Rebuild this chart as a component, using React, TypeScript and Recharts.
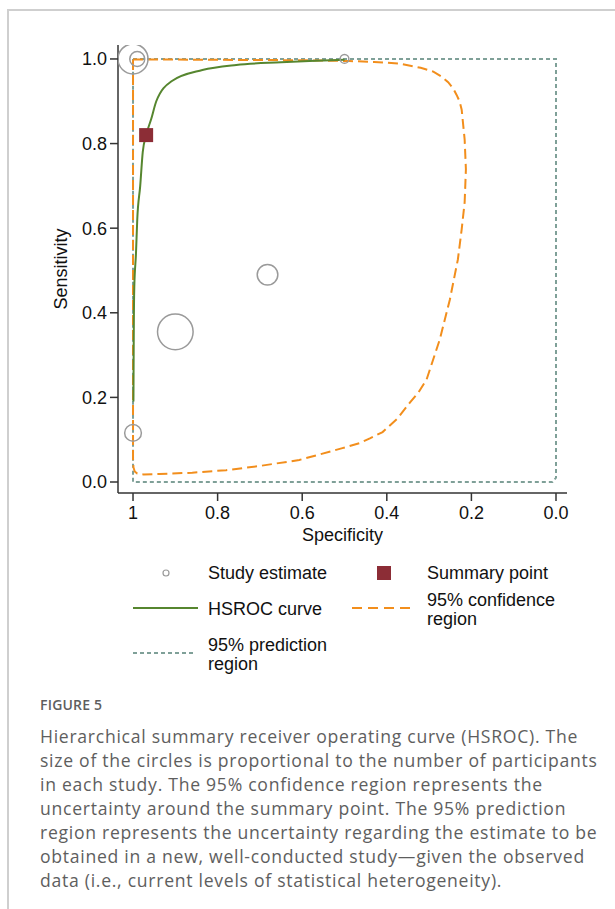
import React from 'react';
import { ScatterChart, Scatter, XAxis, YAxis, ZAxis } from 'recharts';

const specTicks = [1, 0.8, 0.6, 0.4, 0.2, 0];
const sensTicks = [0, 0.2, 0.4, 0.6, 0.8, 1];

// study estimates (circle area ~ participants)
const studySpec = [1.0, 0.99, 0.5, 0.682, 0.9, 1.0];
const studySens = [1.0, 1.0, 1.0, 0.49, 0.355, 0.116];
const studyN = [225, 56, 19, 106, 317, 70];

const summarySpec = [0.969];
const summarySens = [0.82];

// HSROC curve
const hsrocSpec = [0.999, 0.9985, 0.998, 0.997, 0.993, 0.99, 0.983, 0.977, 0.969, 0.957, 0.945, 0.908, 0.836, 0.756, 0.65, 0.583, 0.5];
const hsrocSens = [0.19, 0.3, 0.384, 0.46, 0.54, 0.62, 0.7, 0.78, 0.82, 0.858, 0.9, 0.948, 0.974, 0.986, 0.992, 0.995, 0.998];

// 95% confidence region (closed)
const confSpec = [1.0, 0.8, 0.6, 0.488, 0.43, 0.37, 0.32, 0.29, 0.27, 0.255, 0.243, 0.235, 0.228, 0.223, 0.216, 0.213, 0.216, 0.223, 0.232, 0.251, 0.275, 0.306, 0.325, 0.346, 0.375, 0.41, 0.44, 0.464, 0.505, 0.607, 0.7, 0.78, 0.86, 0.938, 0.975, 0.99, 0.996, 0.999, 1.0, 1.0];
const confSens = [0.999, 0.998, 0.997, 0.995, 0.993, 0.989, 0.979, 0.97, 0.958, 0.945, 0.93, 0.915, 0.9, 0.88, 0.81, 0.739, 0.661, 0.597, 0.526, 0.431, 0.336, 0.242, 0.212, 0.187, 0.15, 0.118, 0.103, 0.092, 0.08, 0.052, 0.038, 0.028, 0.022, 0.019, 0.018, 0.02, 0.025, 0.035, 0.055, 0.999];

// 95% prediction region (closed)
const predSpec = [1.0, 0.0, 0.0, 0.008, 1.0, 1.0];
const predSens = [1.0, 1.0, 0.01, 0.0, 0.0, 1.0];

const zip = (xs: number[], ys: number[]) => xs.map((x, i) => ({ x, y: ys[i] }));

const studies = studySpec.map((x, i) => ({ x, y: studySens[i], n: studyN[i] }));
const summary = zip(summarySpec, summarySens);
const hsroc = zip(hsrocSpec, hsrocSens);
const conf = zip(confSpec, confSens);
const pred = zip(predSpec, predSens);

const GREEN = '#56862f';
const ORANGE = '#f28e1c';
const TEAL = '#7fa098';
const CIRCLE = '#9a9a9a';
const RED = '#8c2d36';
const FONT = '"Liberation Sans", Arial, Helvetica, sans-serif';

const noDot = () => <g />;
const square = (p: any) => <rect x={p.cx - 7} y={p.cy - 7} width={14} height={14} fill={RED} />;

const tickStyle = { fontSize: 18, fill: '#111', fontFamily: FONT };
const axisStroke = { stroke: '#333', strokeWidth: 1.5 };

const captionLines = [
  'Hierarchical summary receiver operating curve (HSROC). The',
  'size of the circles is proportional to the number of participants',
  'in each study. The 95% confidence region represents the',
  'uncertainty around the summary point. The 95% prediction',
  'region represents the uncertainty regarding the estimate to be',
  'obtained in a new, well-conducted study\u2014given the observed',
  'data (i.e., current levels of statistical heterogeneity).',
];

function Legend() {
  const txt = { fontSize: 18, fill: '#111', fontFamily: FONT } as const;
  return (
    <svg width={615} height={140} style={{ position: 'absolute', left: 0, top: 550 }}>
      <circle cx={166} cy={23} r={3} fill="none" stroke={CIRCLE} strokeWidth={1.2} />
      <text x={208} y={23} dominantBaseline="central" {...txt}>Study estimate</text>
      <rect x={377} y={16} width={14} height={14} fill={RED} />
      <text x={427} y={23} dominantBaseline="central" {...txt}>Summary point</text>
      <line x1={133} x2={198} y1={58} y2={58} stroke={GREEN} strokeWidth={2} />
      <text x={208} y={59} dominantBaseline="central" {...txt}>HSROC curve</text>
      <line x1={352} x2={411} y1={58} y2={58} stroke={ORANGE} strokeWidth={2} strokeDasharray="10 6" />
      <text x={427} y={50} dominantBaseline="central" {...txt}>95% confidence</text>
      <text x={427} y={69} dominantBaseline="central" {...txt}>region</text>
      <line x1={133} x2={196} y1={103} y2={103} stroke={TEAL} strokeWidth={2} strokeDasharray="4 3" />
      <text x={208} y={95} dominantBaseline="central" {...txt}>95% prediction</text>
      <text x={208} y={114} dominantBaseline="central" {...txt}>region</text>
    </svg>
  );
}

export default function App() {
  return (
    <div style={{ position: 'absolute', left: 0, top: 0, width: 615, height: 909, background: '#fff', overflow: 'hidden' }}>
      <div
        style={{
          position: 'absolute',
          left: 7,
          top: 9,
          width: 700,
          height: 1000,
          borderLeft: '2px solid #cfcfcf',
          borderTop: '2px solid #cfcfcf',
        }}
      />
      <div style={{ position: 'absolute', left: 0, top: 0 }}>
        <ScatterChart width={615} height={560} margin={{ top: 45, right: 48, bottom: 17, left: 0 }}>
          <XAxis
            type="number"
            dataKey="x"
            domain={[-0.026, 1.0355]}
            reversed
            allowDataOverflow
            ticks={specTicks}
            interval={0}
            tickFormatter={(v: number) => (v === 1 ? '1' : v.toFixed(1))}
            tick={tickStyle}
            tickSize={8}
            tickMargin={5}
            height={50}
            axisLine={axisStroke}
            tickLine={axisStroke}
            label={{ value: 'Specificity', position: 'insideBottom', offset: 2, style: { fontSize: 18, fill: '#111', fontFamily: FONT } }}
          />
          <YAxis
            type="number"
            dataKey="y"
            domain={[-0.026, 1.033]}
            allowDataOverflow
            ticks={sensTicks}
            interval={0}
            tickFormatter={(v: number) => v.toFixed(1)}
            tick={tickStyle}
            tickSize={8}
            tickMargin={3}
            width={118}
            axisLine={axisStroke}
            tickLine={axisStroke}
            label={{ value: 'Sensitivity', angle: -90, position: 'insideLeft', offset: 61, style: { fontSize: 18, fill: '#111', fontFamily: FONT, textAnchor: 'middle' } }}
          />
          <ZAxis zAxisId="n" type="number" dataKey="n" domain={[0, 317]} range={[0, 996]} />
          <Scatter data={pred} line={{ stroke: TEAL, strokeWidth: 2, strokeDasharray: '4 3' }} shape={noDot} isAnimationActive={false} />
          <Scatter data={conf} line={{ stroke: ORANGE, strokeWidth: 2, strokeDasharray: '10 5' }} shape={noDot} isAnimationActive={false} />
          <Scatter data={hsroc} line={{ stroke: GREEN, strokeWidth: 2 }} lineJointType="monotoneX" shape={noDot} isAnimationActive={false} />
          <Scatter data={studies} zAxisId="n" fill="none" stroke={CIRCLE} strokeWidth={1.5} isAnimationActive={false} />
          <Scatter data={summary} shape={square} isAnimationActive={false} />
        </ScatterChart>
      </div>
      <Legend />
      <div
        style={{
          position: 'absolute',
          left: 40,
          top: 695,
          fontFamily: '"Open Sans", Lato, sans-serif',
          color: '#5e5e5e',
        }}
      >
        <div style={{ fontSize: 14, fontWeight: 600, lineHeight: '20px', letterSpacing: 0.2 }}>FIGURE 5</div>
        <div style={{ marginTop: 9, fontSize: 17.6, lineHeight: '24px', letterSpacing: 0.72 }}>
          {captionLines.map((l) => (
            <div key={l} style={{ whiteSpace: 'nowrap' }}>{l}</div>
          ))}
        </div>
      </div>
    </div>
  );
}
